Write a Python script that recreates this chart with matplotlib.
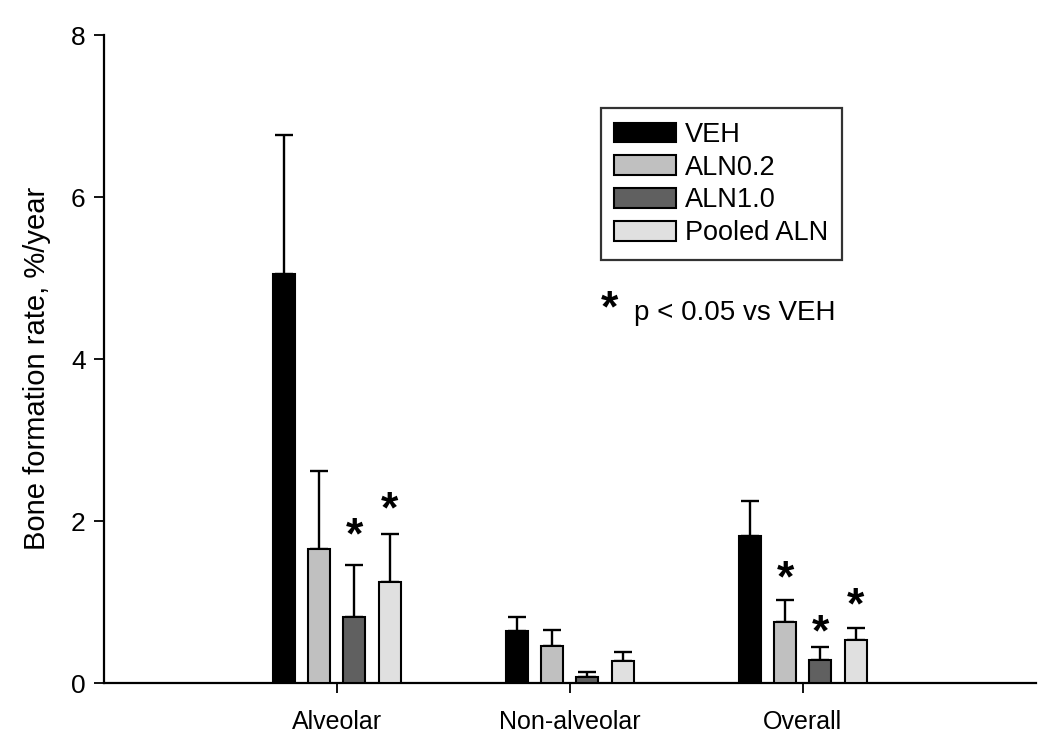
# Bone formation rate by site and treatment group

import numpy as np
import matplotlib.pyplot as plt

plt.rcParams['font.family'] = ['Liberation Sans', 'DejaVu Sans']

categories = ['Alveolar', 'Non-alveolar', 'Overall']
groups = ['VEH', 'ALN0.2', 'ALN1.0', 'Pooled ALN']
colors = ['#000000', '#c0c0c0', '#606060', '#e0e0e0']

# group means per category
veh = [5.05, 0.64, 1.81]
aln02 = [1.65, 0.46, 0.75]
aln10 = [0.82, 0.07, 0.29]
pooled = [1.25, 0.27, 0.53]

# upper error (SE)
veh_err = [1.72, 0.18, 0.44]
aln02_err = [0.97, 0.20, 0.27]
aln10_err = [0.64, 0.06, 0.15]
pooled_err = [0.59, 0.11, 0.15]

# significance markers: (category index, group index, y)
stars = [(0, 2, 1.97), (0, 3, 2.29), (2, 1, 1.44), (2, 2, 0.77), (2, 3, 1.10)]

means = [veh, aln02, aln10, pooled]
errs = [veh_err, aln02_err, aln10_err, pooled_err]

fig = plt.figure(figsize=(10.5, 7.42), dpi=100)
ax = fig.add_axes([0.099, 0.0795, 0.8876, 0.8733])

x = np.arange(len(categories))
step = 0.1505
width = 0.0946
offsets = (np.arange(len(groups)) - 1.5) * step

for i, g in enumerate(groups):
    xs = x + offsets[i]
    ax.bar(xs, means[i], width, color=colors[i], edgecolor='black',
           linewidth=1.5, label=g, zorder=3)
    ax.errorbar(xs, means[i], yerr=[np.zeros(3), errs[i]], fmt='none',
                ecolor='black', elinewidth=1.7, capsize=6.8, capthick=1.7,
                zorder=2)

fs_star = 32
for ci, gi, y in stars:
    ax.annotate('*', (x[ci] + offsets[gi], y), xytext=(0, -0.56 * fs_star),
                textcoords='offset points', ha='center', va='baseline',
                fontsize=fs_star, fontweight='bold')

ax.annotate('*', (1.17, 4.77), xytext=(0, -0.56 * fs_star),
            textcoords='offset points', ha='center', va='baseline',
            fontsize=fs_star, fontweight='bold')
ax.text(1.273, 4.57, 'p < 0.05 vs VEH', ha='left', va='center', fontsize=20)

ax.set_xlim(-1, 3)
ax.set_ylim(0, 8)
ax.set_xticks(x)
ax.set_xticklabels(categories)
ax.set_yticks([0, 2, 4, 6, 8])
ax.tick_params(axis='both', direction='out', length=7.2, width=1.3)
ax.tick_params(axis='x', pad=12, labelsize=18)
ax.tick_params(axis='y', pad=6, labelsize=19)

for side in ['top', 'right']:
    ax.spines[side].set_visible(False)
for side in ['left', 'bottom']:
    ax.spines[side].set_linewidth(1.6)

ax.set_ylabel('Bone formation rate, %/year', fontsize=21)
ax.yaxis.set_label_coords(-0.057, 0.485)

leg = ax.legend(loc='upper left', bbox_to_anchor=(0.572, 0.854),
                bbox_transform=fig.transFigure, borderaxespad=0,
                fontsize=19.5, frameon=True, fancybox=False, shadow=False,
                handlelength=2.27, handleheight=0.75, handletextpad=0.34,
                labelspacing=0.25, borderpad=0.5)
leg.get_frame().set_edgecolor('black')
leg.get_frame().set_linewidth(1.6)

fig.savefig('out.png', dpi=100)
